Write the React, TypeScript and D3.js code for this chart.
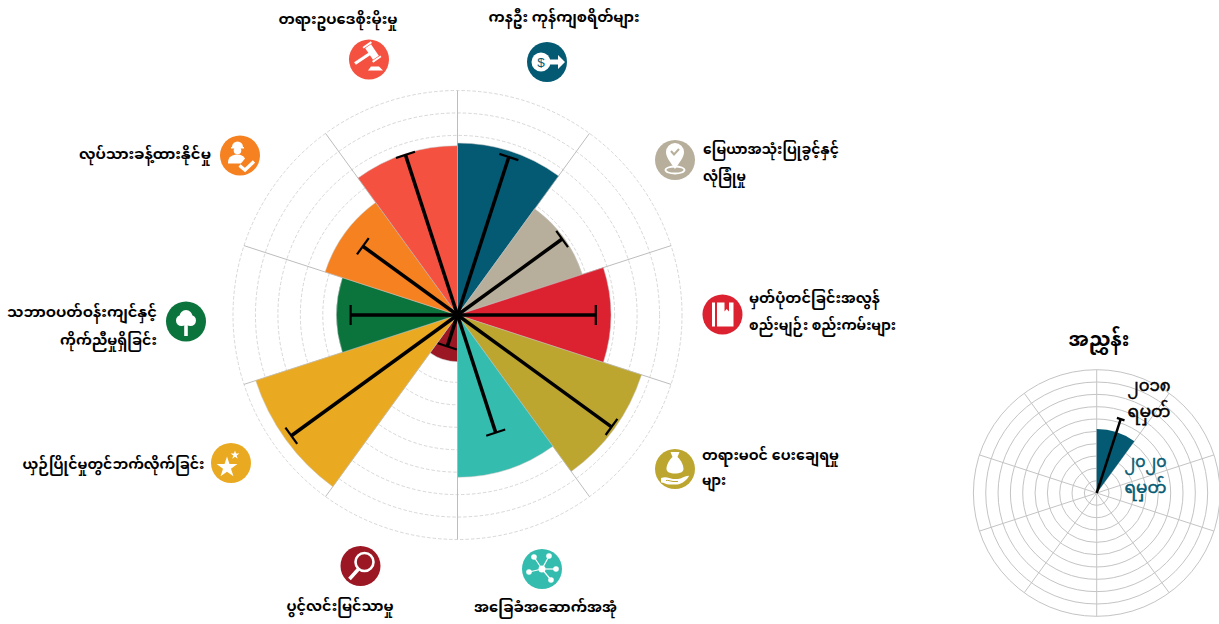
import React from "react";
import * as d3 from "d3";

const pillarLabels: string[][] = [
  ["ကနဦး ကုန်ကျစရိတ်များ"],
  ["မြေယာအသုံးပြုခွင့်နှင့်", "လုံခြုံမှု"],
  ["မှတ်ပုံတင်ခြင်းအလွန်", "စည်းမျဉ်း စည်းကမ်းများ"],
  ["တရားမဝင် ပေးချေရမှု", "များ"],
  ["အခြေခံအဆောက်အအုံ"],
  ["ပွင့်လင်းမြင်သာမှု"],
  ["ယှဉ်ပြိုင်မှုတွင်ဘက်လိုက်ခြင်း"],
  ["သဘာဝပတ်ဝန်းကျင်နှင့်", "ကိုက်ညီမှုရှိခြင်း"],
  ["လုပ်သားခန့်ထားနိုင်မှု"],
  ["တရားဥပဒေစိုးမိုးမှု"],
];
const scores2020 = [76.6, 58.5, 68.3, 86.2, 72.3, 20.8, 94.5, 53.9, 62, 75.4];
const scores2018 = [74, 57.6, 61.6, 84.8, 55.1, 14.7, 91.5, 47.6, 52.1, 75];
const ringTicks = [10, 20, 30, 40, 50, 60, 70, 80, 90, 100];
const legendTitle = "အညွှန်း";
const legend2018 = ["၂၀၁၈", "ရမှတ်"];
const legend2020 = ["၂၀၂၀", "ရမှတ်"];
const legendScore2020 = 52;
const legendScore2018 = 63;

const colors = ["#045a73", "#b7af9b", "#dc2130", "#bda630", "#34bcae", "#9b1724", "#e9a921", "#0b743c", "#f68121", "#f45140"];
const iconPos = [[547, 62], [675, 160], [722.5, 314.5], [675, 469], [542, 569], [360.5, 566], [231, 463], [186, 321.5], [240, 155.5], [369, 59.5]];
const labelLayout: { x: number; ys: number[]; anchor: string; widths: number[] }[] = [
  { x: 564, ys: [22], anchor: "middle", widths: [151] },
  { x: 703, ys: [154, 181], anchor: "start", widths: [136, 43] },
  { x: 749, ys: [303, 330], anchor: "start", widths: [131, 147] },
  { x: 702, ys: [460, 485], anchor: "start", widths: [137, 24] },
  { x: 545.5, ys: [612], anchor: "middle", widths: [143] },
  { x: 340, ys: [611], anchor: "middle", widths: [107] },
  { x: 204.5, ys: [469], anchor: "end", widths: [182] },
  { x: 157, ys: [317, 345], anchor: "end", widths: [150, 97] },
  { x: 211, ys: [159], anchor: "end", widths: [132] },
  { x: 338, ys: [24], anchor: "middle", widths: [119] },
];
const FONT = "'Noto Sans Myanmar','Noto Sans','DejaVu Sans',sans-serif";

const angle = d3.scaleBand<number>().domain(d3.range(10)).range([0, 2 * Math.PI]).paddingInner(0).paddingOuter(0);
const polar = (a: number, r: number): [number, number] => [Math.sin(a) * r, -Math.cos(a) * r];

function Whisker({ a, r, cap, sw, cw }: { a: number; r: number; cap: number; sw: number; cw: number }) {
  const [x, y] = polar(a, r);
  const nx = Math.cos(a) * cap, ny = Math.sin(a) * cap;
  return (
    <g stroke="#000" strokeLinecap="butt">
      <line x1={0} y1={0} x2={x} y2={y} strokeWidth={sw} />
      <line x1={x - nx} y1={y - ny} x2={x + nx} y2={y + ny} strokeWidth={cw} />
    </g>
  );
}

const star = (s: number) => d3.symbol().type(d3.symbolStar).size(s)() as string;

function Icon({ i }: { i: number }) {
  const w = "#fff";
  const c = colors[i];
  switch (i) {
    case 0:
      return <g>
        <circle cx={-6} cy={0} r={9.500} fill={w} />
        <text x={-6} y={5} fontSize={13.500} fontWeight={400} textAnchor="middle" fill={c} fontFamily="'Liberation Sans'">$</text>
        <path d="M2-2.500H11V-7L18 0 11 7V2.500H2Z" fill={w} />
      </g>;
    case 1:
      return <g>
        <path d="M0 9C-5 2-9-3-9-8A9 9 0 0 1 9-8C9-3 5 2 0 9Z" fill={w} />
        <path d="M-4-9L-1-5.500 4-11" stroke={c} strokeWidth={2} fill="none" />
        <ellipse cx={0} cy={10} rx={9.500} ry={3.500} fill="none" stroke={w} strokeWidth={1.800} />
      </g>;
    case 2:
      return <g fill={w}>
        <rect x={-10.500} y={-12} width={3} height={24} />
        <path d="M-5.500-12H11V12H-5.500ZM2-12V-3L4.200-5.500 6.500-3V-12Z" fillRule="evenodd" />
      </g>;
    case 3:
      return <g>
        <path fill={w} d="M-4.500-17L4.500-17 2.500-12C7-8 8.500-3 8.500 0 8.500 3 5 4.500 0 4.500-5 4.500-8.500 3-8.500 0-8.500-3-7-8-2.500-12Z" />
        <path fill={w} d="M-14 9C-9 7-6 9-2 10L3 10C6 10 12 6 14 7 12 11 7 15 2 15.500H-6C-9 15.500-11 13.500-14 13.500Z" />
        <path stroke={c} strokeWidth={1} fill="none" d="M-9 11.500C-7 11-5 12-2 12.500L3 12.500" />
      </g>;
    case 4: {
      const nodes = [[-8, -12], [7, -13], [14, 0], [9, 11], [-13, 3]];
      return <g fill={w} stroke={w}>
        {nodes.map((n, k) => <line key={k} x1={0} y1={0} x2={n[0]} y2={n[1]} strokeWidth={1.200} />)}
        {nodes.map((n, k) => <circle key={k} cx={n[0]} cy={n[1]} r={2.800} stroke="none" />)}
        <circle r={3.500} stroke="none" />
      </g>;
    }
    case 5:
      return <g fill="none" stroke={w}>
        <circle cx={4} cy={-4} r={9} strokeWidth={2.600} />
        <line x1={-2} y1={3} x2={-11} y2={13} strokeWidth={3.500} />
      </g>;
    case 6:
      return <g fill={w}>
        <path d={star(135)} transform="translate(-4,4.500)" />
        <path d={star(24)} transform="translate(4,-8)" />
      </g>;
    case 7:
      return <g fill={w}>
        <circle cx={-4.500} cy={-1} r={5.500} /><circle cx={4.500} cy={-1} r={5.500} /><circle cx={0} cy={-5} r={6.500} />
        <rect x={-1.800} y={0} width={3.600} height={14.500} />
      </g>;
    case 8:
      return <g>
        <path d="M-8-8.500A5.500 5.500 0 0 1 3-8.500Z" fill={w} />
        <rect x={-9} y={-8.500} width={13} height={1.500} fill={w} />
        <circle cx={-2.500} cy={-5} r={3.800} fill={w} />
        <path d="M-12 7C-12 1-7-1-2.500-1 1-1 3 0 5 3L1 8H-12Z" fill={w} />
        <path d="M-0.500 10L5 14.500 14 6" stroke={c} strokeWidth={7} fill="none" />
        <path d="M-0.500 10L5 14.500 14 6" stroke={w} strokeWidth={3.200} fill="none" />
      </g>;
    default:
      return <g fill={w}>
        <line x1={-14} y1={4} x2={1} y2={-6} strokeWidth={3.200} stroke={w} />
        <g transform="translate(3,-7.500) rotate(-34)">
          <rect x={-3.500} y={-7} width={7} height={14} />
          <rect x={-5} y={-9.500} width={10} height={2} />
          <rect x={-5} y={7.500} width={10} height={2} />
        </g>
        <path d="M2 7H10L14 11H-1Z" />
      </g>;
  }
}

function Label({ i }: { i: number }) {
  const { x, ys, anchor, widths } = labelLayout[i];
  return (
    <g>
      {pillarLabels[i].map((t, k) => (
        <text key={k} x={x} y={ys[k]} textAnchor={anchor as any} fontSize={15} fontWeight={700} fill="#000" fontFamily={FONT}
          textLength={widths[k]} lengthAdjust="spacingAndGlyphs">{t}</text>
      ))}
    </g>
  );
}

export default function App() {
  const R = 224.500;
  const r = d3.scaleLinear().domain([0, 100]).range([0, R]);
  const arc = d3.arc();
  const LR = 123.300;
  const lr = d3.scaleLinear().domain([0, 100]).range([0, LR]);
  const step = angle.bandwidth();
  return (
    <svg width={1219} height={624} style={{ position: "absolute", left: 0, top: 0, display: "block" }}>
      <g transform="translate(457.500,315)">
        {ringTicks.map(t => <circle key={t} r={r(t)} fill="none" stroke="#cdcdcd" strokeWidth={0.800} strokeDasharray="3.500 2" />)}
        {d3.range(10).map(i => {
          const [x, y] = polar(angle(i)!, r(100));
          return <line key={i} x1={0} y1={0} x2={x} y2={y} stroke="#bdbdbd" strokeWidth={1} />;
        })}
        {scores2020.map((v, i) => (
          <path key={i} fill={colors[i]} stroke="#c4c4c4" strokeWidth={0.500}
            d={arc({ innerRadius: 0, outerRadius: r(v), startAngle: angle(i)!, endAngle: angle(i)! + step } as any) as string} />
        ))}
        {scores2018.map((v, i) => <Whisker key={i} a={angle(i)! + step / 2} r={r(v)} cap={10} sw={3.500} cw={2.200} />)}
      </g>
      {iconPos.map((p, i) => (
        <g key={i} transform={`translate(${p[0]},${p[1]})`}>
          <circle r={20} fill={colors[i]} />
          <Icon i={i} />
        </g>
      ))}
      {pillarLabels.map((_, i) => <Label key={i} i={i} />)}

      <g transform="translate(1096.700,493)">
        {ringTicks.map(t => <circle key={t} r={lr(t)} fill="none" stroke="#c4c4c4" strokeWidth={1} />)}
        {d3.range(10).map(i => {
          const [x, y] = polar(angle(i)!, lr(100));
          return <line key={i} x1={0} y1={0} x2={x} y2={y} stroke="#c4c4c4" strokeWidth={1} />;
        })}
        <path fill={colors[0]} d={arc({ innerRadius: 0, outerRadius: lr(legendScore2020), startAngle: 0, endAngle: step } as any) as string} />
        <Whisker a={step / 2} r={lr(legendScore2018)} cap={4} sw={2.500} cw={2.200} />
      </g>
      <text x={1099} y={346} textAnchor="middle" fontSize={20} fontWeight={700} fontFamily={FONT}>{legendTitle}</text>
      {legend2018.map((t, k) => (
        <text key={k} x={1149} y={391 + k * 26} textAnchor="middle" fontSize={17} fill="#000" stroke="#000" strokeWidth={0.500}
          fontFamily={FONT} textLength={43} lengthAdjust="spacingAndGlyphs">{t}</text>
      ))}
      {legend2020.map((t, k) => (
        <text key={k} x={1145.500} y={467 + k * 26} textAnchor="middle" fontSize={17} fill={colors[0]} stroke={colors[0]} strokeWidth={0.500}
          fontFamily={FONT} textLength={42} lengthAdjust="spacingAndGlyphs">{t}</text>
      ))}
    </svg>
  );
}
